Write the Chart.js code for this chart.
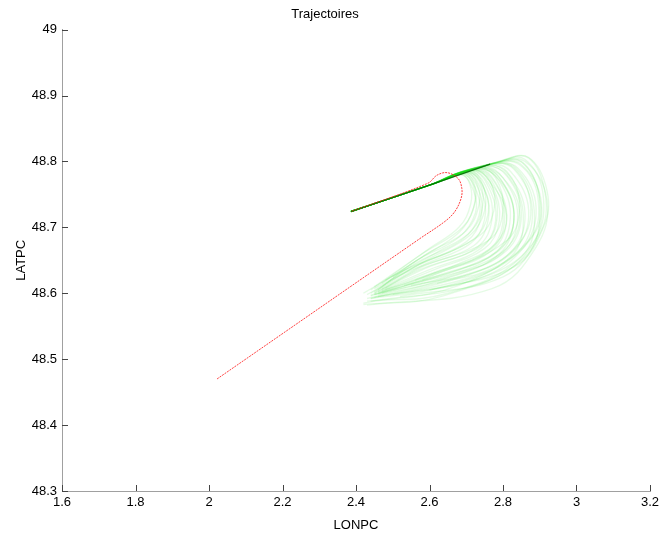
<!DOCTYPE html>
<html>
<head>
<meta charset="utf-8">
<script src="https://cdn.jsdelivr.net/npm/chart.js@4/dist/chart.umd.min.js"></script>
<style>
  html, body { margin: 0; padding: 0; background: #fff; }
  #wrap { width: 665px; height: 533px; }
</style>
</head>
<body>
<div id="wrap"><canvas id="c" width="665" height="533"></canvas></div>
<script>
// ---- Data ----
const chartTitle = "Trajectoires";
const xTitle = "LONPC";
const yTitle = "LATPC";
const xTicks = [1.6, 1.8, 2.0, 2.2, 2.4, 2.6, 2.8, 3.0, 3.2];
const yTicks = [48.3, 48.4, 48.5, 48.6, 48.7, 48.8, 48.9, 49.0];

// red trajectory
const redLon = [2.022, 2.574, 2.642, 2.669, 2.686, 2.688, 2.678, 2.648, 2.620, 2.596, 2.386];
const redLat = [48.470, 48.683, 48.709, 48.724, 48.744, 48.759, 48.774, 48.783, 48.779, 48.767, 48.724];

// shared (dense) outbound segment of the green trajectories
const commonLon = [2.386, 2.60, 2.765];
const commonLat = [48.724, 48.764, 48.796];

// green trajectories (start, mid, turn, arc..., end)
const greenLon = [
  [2.386, 2.60, 2.78, 2.86, 2.92, 2.89, 2.77, 2.43],
  [2.386, 2.60, 2.775, 2.85, 2.905, 2.87, 2.74, 2.44],
  [2.386, 2.60, 2.77, 2.84, 2.89, 2.85, 2.72, 2.46],
  [2.386, 2.60, 2.765, 2.83, 2.88, 2.84, 2.70, 2.45],
  [2.386, 2.60, 2.76, 2.82, 2.87, 2.83, 2.69, 2.44],
  [2.386, 2.60, 2.755, 2.815, 2.86, 2.82, 2.68, 2.46],
  [2.386, 2.60, 2.75, 2.81, 2.85, 2.81, 2.67, 2.45],
  [2.386, 2.60, 2.745, 2.80, 2.84, 2.80, 2.66, 2.47],
  [2.386, 2.60, 2.74, 2.795, 2.83, 2.79, 2.65, 2.46],
  [2.386, 2.60, 2.735, 2.79, 2.82, 2.78, 2.64, 2.45],
  [2.386, 2.60, 2.73, 2.78, 2.81, 2.77, 2.63, 2.47],
  [2.386, 2.60, 2.725, 2.775, 2.80, 2.76, 2.62, 2.46],
  [2.386, 2.60, 2.72, 2.77, 2.79, 2.75, 2.61, 2.48],
  [2.386, 2.60, 2.715, 2.76, 2.78, 2.74, 2.60, 2.47],
  [2.386, 2.60, 2.71, 2.755, 2.77, 2.73, 2.59, 2.46],
  [2.386, 2.60, 2.705, 2.75, 2.76, 2.72, 2.58, 2.48],
  [2.386, 2.60, 2.70, 2.74, 2.75, 2.71, 2.58, 2.47],
  [2.386, 2.60, 2.695, 2.735, 2.74, 2.70, 2.57, 2.46],
  [2.386, 2.60, 2.69, 2.728, 2.735, 2.69, 2.56, 2.45],
  [2.386, 2.60, 2.685, 2.72, 2.725, 2.68, 2.56, 2.45],
  [2.386, 2.60, 2.79, 2.87, 2.915, 2.90, 2.80, 2.52],
  [2.386, 2.60, 2.785, 2.86, 2.91, 2.88, 2.75, 2.50],
  [2.386, 2.60, 2.76, 2.83, 2.875, 2.85, 2.74, 2.55],
  [2.386, 2.60, 2.74, 2.80, 2.845, 2.82, 2.72, 2.53],
  [2.386, 2.60, 2.73, 2.79, 2.83, 2.80, 2.70, 2.58],
  [2.386, 2.60, 2.72, 2.77, 2.81, 2.78, 2.68, 2.56],
  [2.386, 2.60, 2.70, 2.73, 2.735, 2.70, 2.60, 2.47],
  [2.386, 2.60, 2.69, 2.72, 2.72, 2.68, 2.58, 2.44],
  [2.386, 2.60, 2.71, 2.745, 2.75, 2.71, 2.59, 2.45],
  [2.386, 2.60, 2.72, 2.765, 2.775, 2.73, 2.52, 2.42],
  [2.386, 2.60, 2.73, 2.78, 2.80, 2.76, 2.55, 2.43],
  [2.386, 2.60, 2.75, 2.81, 2.845, 2.81, 2.60, 2.44],
  [2.386, 2.60, 2.77, 2.845, 2.895, 2.87, 2.68, 2.42],
  [2.386, 2.60, 2.78, 2.855, 2.90, 2.86, 2.63, 2.42],
  [2.386, 2.60, 2.76, 2.835, 2.885, 2.85, 2.65, 2.43],
  [2.386, 2.60, 2.745, 2.81, 2.855, 2.82, 2.64, 2.44],
  [2.386, 2.60, 2.735, 2.79, 2.83, 2.79, 2.62, 2.43],
  [2.386, 2.60, 2.725, 2.775, 2.805, 2.77, 2.60, 2.44],
  [2.386, 2.60, 2.715, 2.76, 2.785, 2.75, 2.57, 2.45],
  [2.386, 2.60, 2.705, 2.745, 2.76, 2.72, 2.56, 2.44],
  [2.386, 2.60, 2.795, 2.87, 2.92, 2.91, 2.83, 2.60],
  [2.386, 2.60, 2.775, 2.85, 2.90, 2.885, 2.78, 2.62],
  [2.386, 2.60, 2.685, 2.71, 2.712, 2.68, 2.60, 2.48],
  [2.386, 2.60, 2.695, 2.72, 2.725, 2.69, 2.58, 2.45],
  [2.386, 2.60, 2.70, 2.735, 2.745, 2.715, 2.62, 2.50]
];
const greenLat = [
  [48.724, 48.764, 48.798, 48.800, 48.740, 48.670, 48.607, 48.582],
  [48.724, 48.764, 48.797, 48.795, 48.735, 48.665, 48.615, 48.588],
  [48.724, 48.764, 48.797, 48.790, 48.730, 48.665, 48.620, 48.595],
  [48.724, 48.764, 48.796, 48.788, 48.725, 48.662, 48.622, 48.594],
  [48.724, 48.764, 48.795, 48.785, 48.725, 48.665, 48.625, 48.592],
  [48.724, 48.764, 48.794, 48.780, 48.720, 48.662, 48.625, 48.598],
  [48.724, 48.764, 48.793, 48.778, 48.720, 48.665, 48.628, 48.598],
  [48.724, 48.764, 48.792, 48.775, 48.718, 48.662, 48.628, 48.600],
  [48.724, 48.764, 48.791, 48.772, 48.715, 48.665, 48.630, 48.600],
  [48.724, 48.764, 48.790, 48.770, 48.715, 48.662, 48.630, 48.598],
  [48.724, 48.764, 48.789, 48.768, 48.712, 48.665, 48.632, 48.603],
  [48.724, 48.764, 48.788, 48.765, 48.710, 48.665, 48.633, 48.602],
  [48.724, 48.764, 48.787, 48.763, 48.710, 48.668, 48.635, 48.606],
  [48.724, 48.764, 48.786, 48.762, 48.710, 48.668, 48.636, 48.605],
  [48.724, 48.764, 48.785, 48.760, 48.712, 48.670, 48.638, 48.603],
  [48.724, 48.764, 48.784, 48.758, 48.712, 48.672, 48.640, 48.608],
  [48.724, 48.764, 48.783, 48.757, 48.712, 48.675, 48.642, 48.607],
  [48.724, 48.764, 48.782, 48.755, 48.715, 48.678, 48.643, 48.605],
  [48.724, 48.764, 48.781, 48.755, 48.718, 48.682, 48.645, 48.602],
  [48.724, 48.764, 48.780, 48.755, 48.722, 48.685, 48.648, 48.600],
  [48.724, 48.764, 48.800, 48.805, 48.750, 48.690, 48.625, 48.595],
  [48.724, 48.764, 48.799, 48.803, 48.745, 48.675, 48.625, 48.598],
  [48.724, 48.764, 48.795, 48.790, 48.735, 48.680, 48.635, 48.612],
  [48.724, 48.764, 48.791, 48.775, 48.725, 48.675, 48.640, 48.612],
  [48.724, 48.764, 48.789, 48.772, 48.720, 48.672, 48.640, 48.620],
  [48.724, 48.764, 48.787, 48.765, 48.718, 48.675, 48.645, 48.620],
  [48.724, 48.764, 48.783, 48.765, 48.735, 48.695, 48.662, 48.615],
  [48.724, 48.764, 48.781, 48.762, 48.730, 48.692, 48.655, 48.605],
  [48.724, 48.764, 48.785, 48.765, 48.725, 48.688, 48.650, 48.607],
  [48.724, 48.764, 48.787, 48.770, 48.725, 48.685, 48.632, 48.600],
  [48.724, 48.764, 48.789, 48.775, 48.725, 48.680, 48.635, 48.598],
  [48.724, 48.764, 48.793, 48.785, 48.735, 48.680, 48.625, 48.596],
  [48.724, 48.764, 48.797, 48.795, 48.745, 48.680, 48.612, 48.585],
  [48.724, 48.764, 48.798, 48.797, 48.735, 48.655, 48.595, 48.583],
  [48.724, 48.764, 48.795, 48.790, 48.725, 48.655, 48.600, 48.588],
  [48.724, 48.764, 48.792, 48.780, 48.720, 48.655, 48.610, 48.592],
  [48.724, 48.764, 48.790, 48.775, 48.720, 48.660, 48.618, 48.592],
  [48.724, 48.764, 48.788, 48.770, 48.720, 48.668, 48.628, 48.597],
  [48.724, 48.764, 48.786, 48.767, 48.722, 48.675, 48.635, 48.600],
  [48.724, 48.764, 48.784, 48.762, 48.722, 48.682, 48.640, 48.600],
  [48.724, 48.764, 48.801, 48.806, 48.755, 48.700, 48.640, 48.605],
  [48.724, 48.764, 48.797, 48.800, 48.745, 48.690, 48.640, 48.615],
  [48.724, 48.764, 48.780, 48.765, 48.735, 48.700, 48.668, 48.620],
  [48.724, 48.764, 48.782, 48.768, 48.740, 48.700, 48.660, 48.610],
  [48.724, 48.764, 48.783, 48.770, 48.735, 48.695, 48.662, 48.625]
];

// ---- Build datasets ----
function toPoints(lons, lats) {
  return lons.map((x, i) => ({ x: x, y: lats[i] }));
}
const datasets = [];
datasets.push({
  label: 'red',
  data: toPoints(redLon, redLat),
  showLine: true,
  borderColor: 'rgba(255,30,30,0.85)',
  borderWidth: 1,
  borderDash: [2, 1],
  pointRadius: 0,
  tension: 0.35
});
datasets.push({
  label: 'common',
  data: toPoints(commonLon, commonLat),
  showLine: true,
  borderColor: 'rgba(0,100,0,0.85)',
  borderWidth: 1.3,
  pointRadius: 0,
  tension: 0
});
greenLon.forEach((lons, k) => {
  datasets.push({
    label: 'g' + k,
    data: toPoints(lons, greenLat[k]),
    showLine: true,
    borderColor: 'rgba(0,220,0,0.10)',
    borderWidth: 1.4,
    pointRadius: 0,
    tension: 0.4
  });
});

function fmt(v) { return String(parseFloat(v.toFixed(1))); }

const inwardTicks = {
  id: 'inwardTicks',
  afterDraw(chart) {
    const ctx = chart.ctx;
    const xs = chart.scales.x, ys = chart.scales.y;
    const ca = chart.chartArea;
    ctx.save();
    ctx.strokeStyle = '#444';
    ctx.lineWidth = 1;
    ctx.beginPath();
    xs.ticks.forEach(t => {
      const px = Math.round(xs.getPixelForValue(t.value)) + 0.5;
      ctx.moveTo(px, ca.bottom);
      ctx.lineTo(px, ca.bottom - 6);
    });
    ys.ticks.forEach(t => {
      const py = Math.round(ys.getPixelForValue(t.value)) + 0.5;
      ctx.moveTo(ca.left, py);
      ctx.lineTo(ca.left + 6, py);
    });
    ctx.stroke();
    ctx.restore();
  }
};

Chart.defaults.font.family = "'Liberation Sans', Arial, sans-serif";
Chart.defaults.color = '#000';

new Chart(document.getElementById('c'), {
  type: 'scatter',
  data: { datasets: datasets },
  options: {
    responsive: false,
    animation: false,
    events: [],
    layout: { padding: { left: 0, right: 15, top: 0, bottom: 0 } },
    plugins: {
      legend: { display: false },
      tooltip: { enabled: false },
      title: {
        display: true,
        text: chartTitle,
        font: { size: 13, weight: 'normal' },
        color: '#000',
        padding: { top: 7, bottom: 7 }
      }
    },
    scales: {
      x: {
        type: 'linear',
        min: xTicks[0],
        max: xTicks[xTicks.length - 1],
        afterBuildTicks(scale) { scale.ticks = xTicks.map(v => ({ value: v })); },
        afterFit(scale) { scale.height = 42; },
        ticks: { callback: v => fmt(v), font: { size: 13 }, padding: 4, maxRotation: 0, autoSkip: false },
        grid: { display: true, drawOnChartArea: false, drawTicks: false },
        border: { display: true, color: '#a0a0a0', width: 1 },
        title: { display: true, text: xTitle, font: { size: 13 }, padding: { top: 2, bottom: 0 } }
      },
      y: {
        type: 'linear',
        min: yTicks[0],
        max: yTicks[yTicks.length - 1],
        afterBuildTicks(scale) { scale.ticks = yTicks.map(v => ({ value: v })); },
        afterFit(scale) { scale.width = 62; },
        ticks: { callback: v => fmt(v), font: { size: 13 }, padding: 5, autoSkip: false },
        grid: { display: true, drawOnChartArea: false, drawTicks: false },
        border: { display: true, color: '#a0a0a0', width: 1 },
        title: { display: true, text: yTitle, font: { size: 13 }, padding: { top: 14, bottom: 0 } }
      }
    }
  },
  plugins: [inwardTicks]
});
</script>
</body>
</html>
